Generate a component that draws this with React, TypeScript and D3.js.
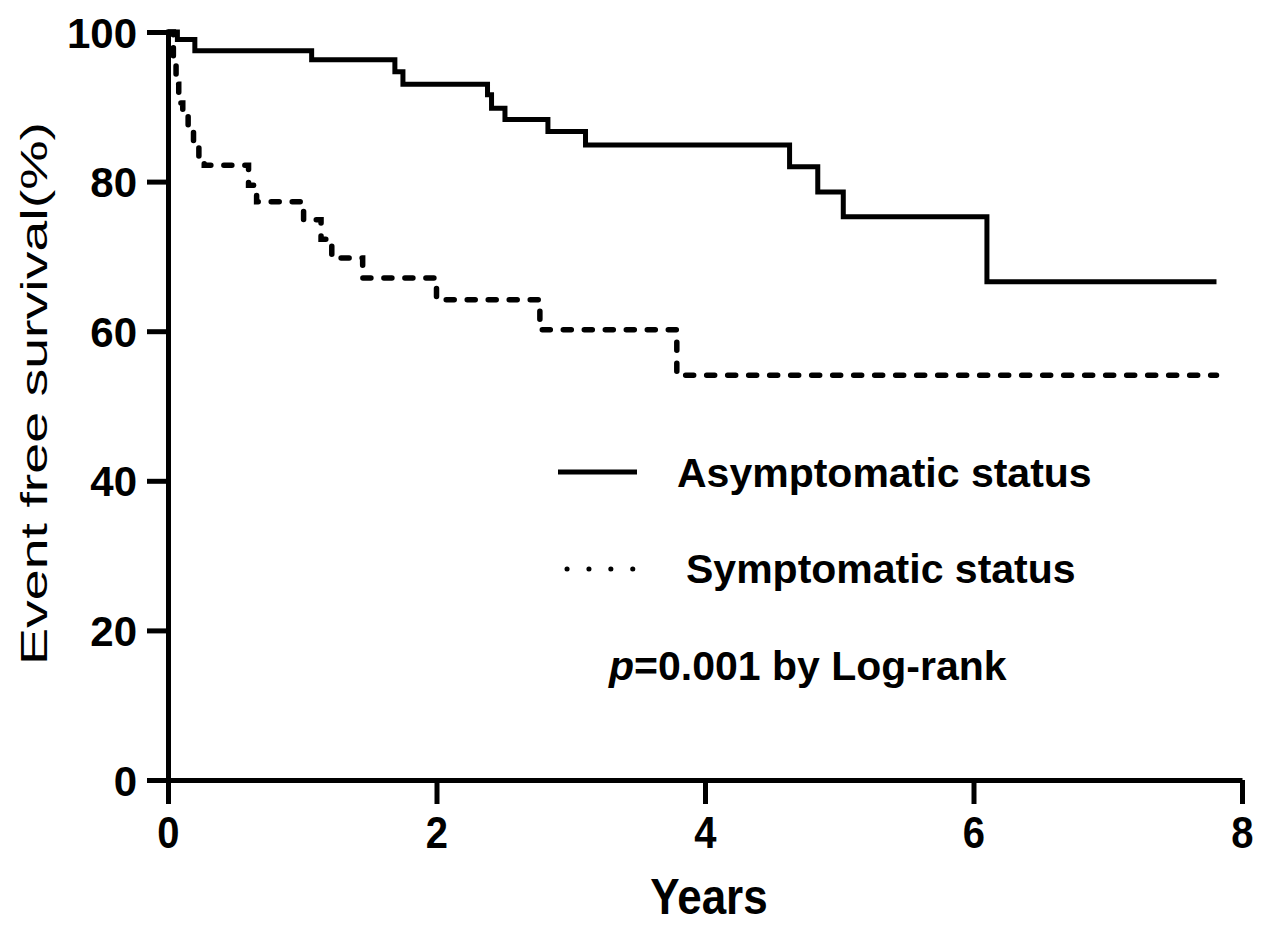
import React, { useEffect, useRef } from "react";
import * as d3 from "d3";

// Kaplan-Meier steps (years, % event free)
const asymTimes = [0, 0.07, 0.2, 1.07, 1.69, 1.75, 2.38, 2.41, 2.51, 2.83, 3.11, 4.63, 4.84, 5.03, 6.1, 7.81];
const asymSurv = [100, 99, 97.5, 96.3, 94.7, 93.0, 91.6, 89.8, 88.3, 86.7, 84.9, 82.0, 78.6, 75.3, 66.6, 66.6];

const symTimes = [0, 0.04, 0.06, 0.08, 0.11, 0.15, 0.19, 0.23, 0.27, 0.6, 0.66, 1.01, 1.14, 1.22, 1.45, 2.0, 2.77, 3.79, 7.81];
const symSurv = [100, 96, 93, 90.5, 89.2, 87.3, 85.2, 83.3, 82.2, 79.5, 77.3, 74.9, 72.3, 69.8, 67.1, 64.2, 60.2, 54.1, 54.1];

const xTicks = [0, 2, 4, 6, 8];
const yTicks = [0, 20, 40, 60, 80, 100];

const seriesNames = ["Asymptomatic status", "Symptomatic status"];

const W = 1266;
const H = 930;
const FONT = "'Liberation Sans', Arial, sans-serif";

const App = () => {
  const ref = useRef<SVGSVGElement>(null);

  useEffect(() => {
    const svg = d3.select(ref.current);
    svg.selectAll("*").remove();

    const x = d3.scaleLinear().domain([0, 8]).range([168, 1242]);
    const y = d3.scaleLinear().domain([0, 100]).range([780, 32]);

    const line = d3.line<[number, number]>()
      .x(d => x(d[0]))
      .y(d => y(d[1]))
      .curve(d3.curveStepAfter);

    // axes
    const yAxis = svg.append("g")
      .attr("transform", `translate(${x(0)},0)`)
      .call(d3.axisLeft(y).tickValues(yTicks).tickSize(21).tickSizeOuter(0).tickPadding(10));
    const xAxis = svg.append("g")
      .attr("transform", `translate(0,${y(0)})`)
      .call(d3.axisBottom(x).tickValues(xTicks).tickSize(24).tickSizeOuter(0).tickPadding(14));

    [yAxis, xAxis].forEach(g => {
      g.selectAll("path, line").attr("stroke", "#000").attr("stroke-width", 5);
      g.selectAll("text")
        .attr("fill", "#000")
        .attr("font-family", FONT)
        .attr("font-weight", "bold")
        .attr("font-size", 42);
    });
    yAxis.selectAll("text").attr("dy", "0.36em");
    // x tick digits look a little narrower / taller in the original
    xAxis.selectAll("text")
      .attr("font-size", 40)
      .attr("transform", "translate(0,-6) scale(1,1.12)");

    // curves
    svg.append("path")
      .datum(asymTimes.map((t, i) => [t, asymSurv[i]] as [number, number]))
      .attr("d", line)
      .attr("fill", "none")
      .attr("stroke", "#000")
      .attr("stroke-width", 5);

    svg.append("path")
      .datum(symTimes.map((t, i) => [t, symSurv[i]] as [number, number]))
      .attr("d", line)
      .attr("fill", "none")
      .attr("stroke", "#000")
      .attr("stroke-width", 5.5)
      .attr("stroke-linecap", "round")
      .attr("stroke-dasharray", "8 13");

    // legend
    svg.append("line")
      .attr("x1", 558).attr("x2", 637).attr("y1", 472).attr("y2", 472)
      .attr("stroke", "#000").attr("stroke-width", 5);
    svg.append("line")
      .attr("x1", 567).attr("x2", 633).attr("y1", 569).attr("y2", 569)
      .attr("stroke", "#000").attr("stroke-width", 5)
      .attr("stroke-linecap", "round")
      .attr("stroke-dasharray", "0.1 21.8");

    const txt = (s: string, tx: number, ty: number) =>
      svg.append("text")
        .attr("x", tx).attr("y", ty)
        .attr("font-family", FONT)
        .attr("font-weight", "bold")
        .attr("font-size", 41)
        .text(s);

    txt(seriesNames[0], 677, 487);
    txt(seriesNames[1], 686, 583);

    const p = svg.append("text")
      .attr("x", 609).attr("y", 680)
      .attr("font-family", FONT)
      .attr("font-weight", "bold")
      .attr("font-size", 41);
    p.append("tspan").attr("font-style", "italic").text("p");
    p.append("tspan").text("=0.001 by Log-rank");

    // axis titles
    svg.append("text")
      .attr("transform", `translate(47,${(122 + 665) / 2}) rotate(-90)`)
      .attr("text-anchor", "middle")
      .attr("font-family", FONT)
      .attr("font-size", 36)
      .attr("textLength", 543)
      .attr("lengthAdjust", "spacingAndGlyphs")
      .text("Event free survival(%)");

    svg.append("text")
      .attr("transform", `translate(${x(4) + 4},914) scale(1,1.15)`)
      .attr("text-anchor", "middle")
      .attr("font-family", FONT)
      .attr("font-weight", "bold")
      .attr("font-size", 44)
      .text("Years");
  }, []);

  return (
    <svg
      ref={ref}
      width={W}
      height={H}
      style={{ position: "absolute", left: 0, top: 0, background: "#fff" }}
    />
  );
};

export default App;
